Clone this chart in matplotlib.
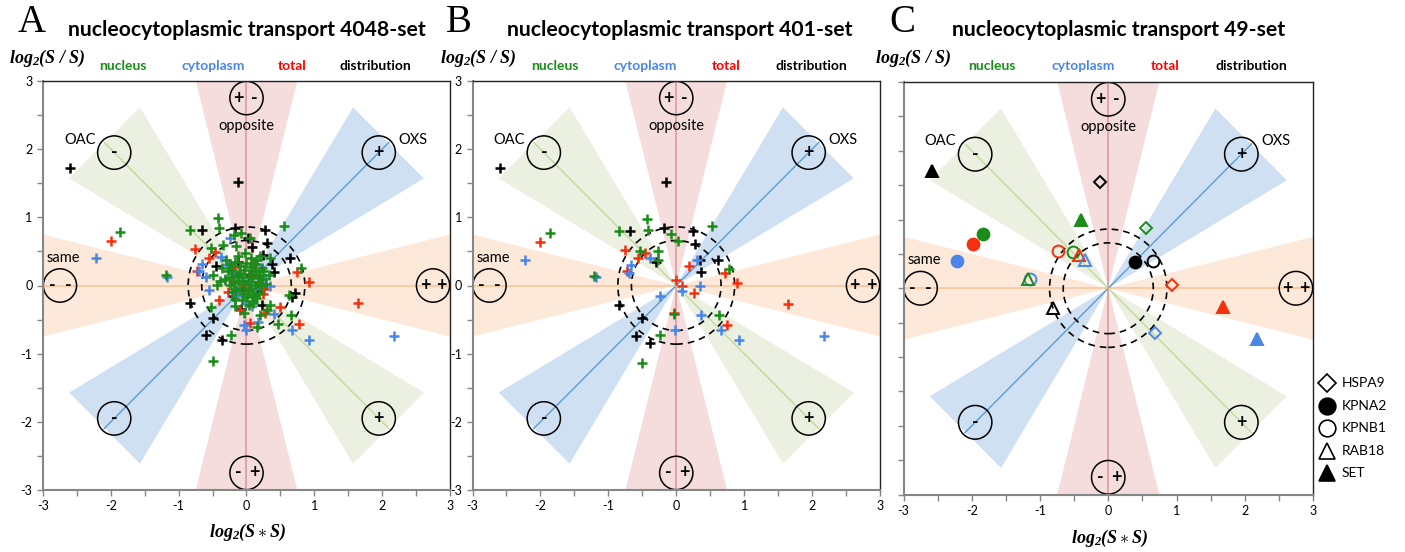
import matplotlib
matplotlib.use("Agg")
import matplotlib.pyplot as plt
from matplotlib.patches import Polygon, Circle
import numpy as np

plt.rcParams['font.family'] = ['Lato', 'DejaVu Sans']
plt.rcParams['mathtext.fontset'] = 'custom'
plt.rcParams['mathtext.rm'] = 'Liberation Serif'
plt.rcParams['mathtext.it'] = 'Liberation Serif:italic'
plt.rcParams['mathtext.bf'] = 'Liberation Serif:bold'
if 'mathtext.bfit' in plt.rcParams:
    plt.rcParams['mathtext.bfit'] = 'Liberation Serif:italic:bold'

# ---------------- colours ----------------
C_NUC = '#1a8c1a'
C_CYT = '#4a86e8'
C_TOT = '#f5300f'
C_DIS = '#000000'

# ---------------- 4048-set ----------------
a_nuc_x = [-1.86, -1.18, -0.42, -0.83, -0.40, -0.19, -0.08, 0.55, 0.05, -0.53, -0.34, -0.16,
           0.20, 0.35, 0.80, 0.63, -0.49, -0.44, -0.30, -0.52, -0.17, 0.10, 0.35, 0.20, 0.30,
           0.47, 0.16, 0.65, -0.04, -0.23, -0.50,
           -0.24, -0.17, -0.09, -0.01, 0.07, 0.13, 0.23, -0.27, -0.21, -0.11, -0.04, 0.04,
           0.12, 0.19, 0.25, -0.31, -0.23, -0.13, -0.07, 0.02, 0.08, 0.17, 0.23, -0.25, -0.19,
           -0.09, -0.02, 0.06, 0.13, 0.21, 0.29, -0.21, -0.15, -0.05, 0.03, 0.09, 0.18, -0.17,
           -0.07, 0.01, 0.09, 0.14, -0.36, 0.33, -0.39, 0.06, -0.12, 0.15, -0.02, 0.04, -0.14]
a_nuc_y = [0.79, 0.15, 0.99, 0.82, 0.84, 0.74, 0.77, 0.87, 0.69, 0.55, 0.60, 0.58,
           0.44, 0.40, 0.26, -0.14, 0.15, 0.01, 0.38, -0.31, -0.30, -0.26, -0.29, -0.43, -0.36,
           -0.56, -0.61, -0.43, -0.41, -0.72, -1.11,
           0.31, 0.34, 0.29, 0.33, 0.27, 0.32, 0.26, 0.21, 0.23, 0.18, 0.23, 0.17,
           0.22, 0.16, 0.21, 0.09, 0.13, 0.07, 0.12, 0.06, 0.11, 0.05, 0.10, 0.01, 0.03,
           -0.03, 0.02, -0.04, 0.01, -0.01, 0.02, -0.09, -0.07, -0.13, -0.08, -0.14, -0.11, -0.20,
           -0.22, -0.17, -0.23, -0.18, 0.26, 0.15, 0.06, 0.41, 0.43, 0.37, 0.48, -0.28, 0.14]

a_cyt_x = [-2.22, 2.18, -1.17, -0.25, -0.38, -0.66, -0.70, -0.59, -0.32, -0.56, 0.35, 0.28,
           -0.19, 0.00, 0.40, 0.17, -0.03, 0.00, 0.67, 0.92, -0.10, 0.12, -0.22, 0.20, 0.05,
           -0.15, 0.08, -0.27]
a_cyt_y = [0.40, -0.74, 0.13, 0.70, 0.42, 0.32, 0.21, 0.12, 0.08, -0.07, 0.00, 0.11,
           -0.09, -0.26, -0.42, -0.54, -0.58, -0.65, -0.65, -0.80, 0.12, -0.05, 0.18, 0.25, 0.05,
           -0.15, -0.30, 0.30]

a_tot_x = [-2.00, 1.65, -0.76, -0.55, -0.47, -0.19, 0.08, 0.20, 0.24, 0.74, 0.92, -0.41,
           0.08, 0.05, 0.28, 0.49, 0.77, -0.09, -0.27, -0.12, 0.14, 0.02, -0.05, 0.18, -0.20,
           0.26, 0.10, -0.73]
a_tot_y = [0.66, -0.26, 0.54, 0.41, 0.49, 0.27, 0.13, 0.03, -0.12, 0.20, 0.05, -0.22,
           -0.14, -0.55, -0.41, -0.32, -0.56, -0.36, -0.09, 0.15, 0.22, -0.05, 0.05, 0.12, 0.05,
           -0.05, 0.30, 0.22]

a_dis_x = [-2.60, -0.13, -0.66, -0.17, 0.27, 0.02, 0.08, 0.30, 0.25, -0.45, -0.12, 0.37,
           0.40, 0.64, 0.72, 0.67, -0.83, -0.20, -0.08, 0.23, -0.50, -0.59, -0.36, 0.05, -0.05,
           0.15]
a_dis_y = [1.73, 1.52, 0.82, 0.84, 0.82, 0.69, 0.57, 0.62, 0.45, 0.29, 0.35, 0.32,
           0.20, 0.40, -0.11, -0.17, -0.26, -0.15, -0.34, -0.28, -0.47, -0.72, -0.80, 0.15, -0.05,
           -0.08]

# ---------------- 401-set ----------------
b_nuc_x = [-1.86, -1.21, -0.43, -0.84, -0.42, -0.07, 0.53, 0.03, -0.54, -0.27, -0.27,
           0.78, -0.04, 0.63, -0.24, -0.50]
b_nuc_y = [0.77, 0.14, 0.98, 0.80, 0.81, 0.75, 0.87, 0.65, 0.51, 0.51, 0.38,
           0.24, -0.42, -0.44, -0.73, -1.13]
b_cyt_x = [-2.23, 2.18, -1.18, -0.38, -0.66, -0.70, 0.30, 0.08, 0.35, -0.24, 0.37,
           -0.02, 0.66, 0.92]
b_cyt_y = [0.38, -0.74, 0.12, 0.41, 0.30, 0.19, 0.38, -0.08, 0.00, -0.16, -0.43,
           -0.66, -0.66, -0.80]
b_tot_x = [-2.01, 1.65, -0.76, -0.57, -0.46, 0.19, 0.00, 0.08, 0.26, 0.72, 0.90,
           -0.04, 0.75, -0.72]
b_tot_y = [0.64, -0.27, 0.52, 0.40, 0.48, 0.29, 0.08, 0.00, -0.11, 0.19, 0.03,
           -0.41, -0.58, 0.21]
b_dis_x = [-2.60, -0.15, -0.68, -0.18, 0.25, 0.28, -0.30, 0.35, 0.61, 0.37, -0.84,
           -0.50, -0.60, -0.38]
b_dis_y = [1.73, 1.52, 0.80, 0.84, 0.80, 0.61, 0.34, 0.38, 0.38, 0.20, -0.29,
           -0.47, -0.74, -0.84]

# ---------------- 49-set (selected genes) ----------------
genes = ['HSPA9', 'KPNA2', 'KPNB1', 'RAB18', 'SET']
gene_marker = ['D', 'o', 'o', '^', '^']
gene_filled = [False, True, False, False, True]
c_nuc_x = [0.56, -1.83, -0.52, -1.17, -0.40]
c_nuc_y = [0.87, 0.79, 0.53, 0.14, 0.99]
c_cyt_x = [0.69, -2.21, -1.15, -0.34, 2.18]
c_cyt_y = [-0.65, 0.40, 0.14, 0.41, -0.74]
c_tot_x = [0.94, -1.98, -0.74, -0.43, 1.68]
c_tot_y = [0.05, 0.64, 0.54, 0.48, -0.27]
c_dis_x = [-0.12, 0.39, 0.65, -0.81, -2.58]
c_dis_y = [1.54, 0.38, 0.40, -0.29, 1.71]

ticks_major = [-3, -2, -1, 0, 1, 2, 3]
tick_labels = ['-3', '-2', '-1', '0', '1', '2', '3']

# sector shading (direction in degrees, fill colour, reach)
sectors = [(0, '#fde9da', 3.4), (180, '#fde9da', 3.4),
           (90, '#f4dddc', 3.4), (270, '#f4dddc', 3.4),
           (45, '#cfe0f2', 3.05), (225, '#cfe0f2', 3.05),
           (135, '#ebf0e0', 3.05), (315, '#ebf0e0', 3.05)]
HALF_ANGLE = 14.0

sign_circles = [(-1.95, 1.95, ['-']), (1.95, 1.95, ['+']),
                (-1.95, -1.95, ['-']), (1.95, -1.95, ['+']),
                (0.0, 2.75, ['+', '-']), (0.0, -2.75, ['-', '+']),
                (-2.75, 0.0, ['-', '-']), (2.75, 0.0, ['+', '+'])]

fig = plt.figure(figsize=(14.05, 5.52), dpi=100)


def fx(px):
    return px / 1405.0


def fy(py):
    return 1.0 - py / 552.0


def decorate(ax, show_ylabels=True):
    ax.set_xlim(-3, 3)
    ax.set_ylim(-3, 3)
    for (ang, col, reach) in sectors:
        a1 = np.radians(ang - HALF_ANGLE)
        a2 = np.radians(ang + HALF_ANGLE)
        tri = Polygon([(0, 0), (reach * np.cos(a1), reach * np.sin(a1)),
                       (reach * np.cos(a2), reach * np.sin(a2))],
                      closed=True, facecolor=col, edgecolor='none', zorder=0)
        ax.add_patch(tri)
    ax.plot([-3, 3], [0, 0], color='#f9c59c', lw=1.2, zorder=1)
    ax.plot([0, 0], [-3, 3], color='#dc9c9a', lw=1.2, zorder=1)
    ax.plot([-2.1, 2.1], [-2.1, 2.1], color='#5b9bd5', lw=1.0, zorder=1)
    ax.plot([-2.1, 2.1], [2.1, -2.1], color='#c4d79b', lw=1.0, zorder=1)
    for r in (0.66, 0.86):
        ax.add_patch(Circle((0, 0), r, fill=False, ls=(0, (4, 3)), lw=1.2,
                            edgecolor='black', zorder=2))
    for (cx, cy, signs) in sign_circles:
        ax.add_patch(Circle((cx, cy), 0.245, fill=False, lw=1.1,
                            edgecolor='black', zorder=2))
        if len(signs) == 1:
            ax.text(cx, cy, signs[0], ha='center', va='center', fontsize=13,
                    fontweight='bold', zorder=3)
        else:
            ax.text(cx - 0.12, cy, signs[0], ha='center', va='center',
                    fontsize=13, fontweight='bold', zorder=3)
            ax.text(cx + 0.12, cy, signs[1], ha='center', va='center',
                    fontsize=13, fontweight='bold', zorder=3)
    ax.text(-2.46, 2.14, 'OAC', ha='center', va='center', fontsize=10.5)
    ax.text(2.46, 2.14, 'OXS', ha='center', va='center', fontsize=10.5)
    ax.text(0.0, 2.34, 'opposite', ha='center', va='center', fontsize=10.5)
    ax.text(-2.70, 0.41, 'same', ha='center', va='center', fontsize=10.5)

    ax.set_xticks(ticks_major)
    ax.set_xticklabels(tick_labels)
    ax.set_yticks(ticks_major)
    if show_ylabels:
        ax.set_yticklabels(tick_labels)
    else:
        ax.set_yticklabels([])
    ax.set_xticks(np.arange(-2.5, 3.0, 1.0), minor=True)
    ax.set_yticks(np.arange(-2.5, 3.0, 1.0), minor=True)
    ax.tick_params(which='both', direction='out', length=4, width=1,
                   color='#868686', labelsize=9)
    for s in ('left', 'bottom'):
        ax.spines[s].set_color('#868686')
        ax.spines[s].set_linewidth(1.5)
    for s in ('top', 'right'):
        ax.spines[s].set_color('#222222')
        ax.spines[s].set_linewidth(1.0)


def plus_points(ax, x, y, col):
    ax.plot(x, y, ls='none', marker='+', ms=7, mew=1.8, color=col, zorder=4)


axA = fig.add_axes([fx(43), fy(490), fx(407), 409 / 552.0])
axB = fig.add_axes([fx(472.5), fy(490), fx(407.5), 409 / 552.0])
axC = fig.add_axes([fx(903.5), fy(494.5), fx(409.5), 412.5 / 552.0])

decorate(axA)
decorate(axB)
decorate(axC, show_ylabels=False)

for ax, sets in ((axA, [(a_dis_x, a_dis_y, C_DIS), (a_tot_x, a_tot_y, C_TOT),
                         (a_cyt_x, a_cyt_y, C_CYT), (a_nuc_x, a_nuc_y, C_NUC)]),
                 (axB, [(b_dis_x, b_dis_y, C_DIS), (b_tot_x, b_tot_y, C_TOT),
                         (b_cyt_x, b_cyt_y, C_CYT), (b_nuc_x, b_nuc_y, C_NUC)])):
    for (x, y, col) in sets:
        plus_points(ax, x, y, col)

comp_sets = [(c_tot_x, c_tot_y, C_TOT), (c_nuc_x, c_nuc_y, C_NUC),
             (c_cyt_x, c_cyt_y, C_CYT), (c_dis_x, c_dis_y, C_DIS)]
marker_size = {'D': 6.5, 'o': 8.5, '^': 8.5}
for gi, g in enumerate(genes):
    m = gene_marker[gi]
    for (xs, ys, col) in comp_sets:
        axC.plot(xs[gi], ys[gi], ls='none', marker=m, ms=marker_size[m],
                 mew=1.4, markeredgecolor=col,
                 markerfacecolor=col if gene_filled[gi] else 'none', zorder=4)

# legend of gene markers
axL = fig.add_axes([fx(1314), fy(490), fx(90), 130 / 552.0])
axL.set_xlim(1314, 1404)
axL.set_ylim(490, 360)
axL.axis('off')
leg_y = [383, 406, 428, 451, 473]
leg_ms = {'D': 9, 'o': 12, '^': 12}
for gi, g in enumerate(genes):
    m = gene_marker[gi]
    axL.plot(1327, leg_y[gi], ls='none', marker=m, ms=leg_ms[m], mew=1.2,
             markeredgecolor='black',
             markerfacecolor='black' if gene_filled[gi] else 'none')
    axL.text(1342, leg_y[gi], g, ha='left', va='center', fontsize=10)

# panel headers
ylab = r'$\mathbfit{log}_{\mathbfit{2}}\mathbfit{(S\ /\ S)}$'
xlab = r'$\mathbfit{log}_{\mathbfit{2}}\mathbfit{(S}\ast\mathbfit{S)}$'
headers = [('A', 32, 'nucleocytoplasmic transport 4048-set', 247, 47, [123, 213, 292, 375]),
           ('B', 459, 'nucleocytoplasmic transport 401-set', 680, 478, [555, 645, 726, 811]),
           ('C', 902, 'nucleocytoplasmic transport 49-set', 1119, 913, [992, 1083, 1165, 1251])]
words = [('nucleus', C_NUC), ('cytoplasm', C_CYT), ('total', '#ff0000'),
         ('distribution', '#000000')]
for (letter, lx, title, tx, yx, wx) in headers:
    fig.text(fx(lx), fy(23), letter, ha='center', va='center', fontsize=28,
             family='Liberation Serif')
    fig.text(fx(tx), fy(30), title, ha='center', va='center', fontsize=15.2,
             fontweight='bold')
    fig.text(fx(yx), fy(58), ylab, ha='center', va='center', fontsize=13)
    for (w, col), px in zip(words, wx):
        fig.text(fx(px), fy(66), w, ha='center', va='center', fontsize=10,
                 fontweight='bold', color=col)

fig.text(fx(247), fy(532), xlab, ha='center', va='center', fontsize=13)
fig.text(fx(1109), fy(538), xlab, ha='center', va='center', fontsize=13)

fig.savefig('out.png', dpi=100)
